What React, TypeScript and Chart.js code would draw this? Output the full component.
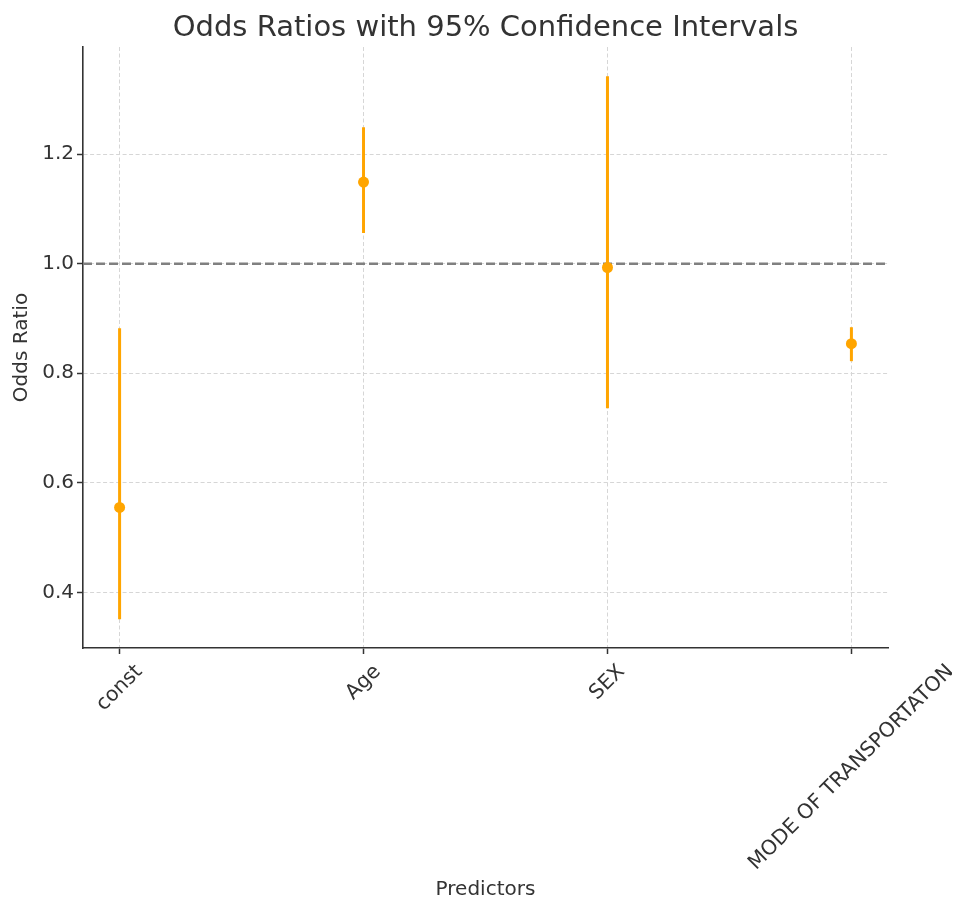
import React, { useEffect, useRef } from 'react';
import { Chart, registerables } from 'chart.js';

Chart.register(...registerables);

const categories = ['const', 'Age', 'SEX', 'MODE OF TRANSPORTATON'];
const oddsRatios = [0.555, 1.149, 0.993, 0.854];
const ciLower = [0.351, 1.056, 0.736, 0.822];
const ciUpper = [0.882, 1.249, 1.342, 0.884];
const yTicks = [0.4, 0.6, 0.8, 1.0, 1.2];
const referenceValue = 1.0;
const chartTitle = 'Odds Ratios with 95% Confidence Intervals';

const X_MIN = -0.15;
const X_MAX = 3.15;
const Y_MIN = 0.2985;
const Y_MAX = 1.3955;

const FAMILY = '"DejaVu Sans", sans-serif';
const TEXT = '#333333';
const ORANGE = '#FFA500';
const W = 944;
const H = 893;

const xLabelPlugin = {
  id: 'xLabels',
  afterDraw(chart: any) {
    const ctx = chart.ctx;
    const xs = chart.scales.x;
    const area = chart.chartArea;
    ctx.save();
    // title centred over the plot area
    ctx.font = `29px ${FAMILY}`;
    ctx.fillStyle = TEXT;
    ctx.textAlign = 'center';
    ctx.textBaseline = 'middle';
    ctx.fillText(chartTitle, (area.left + area.right) / 2, 20);
    // rotated category labels, bbox centred on tick
    const size = 20.5;
    ctx.font = `${size}px ${FAMILY}`;
    const top = xs.top + 12;
    xs.ticks.forEach((t: any) => {
      const label = categories[t.value];
      if (label === undefined) return;
      const L = ctx.measureText(label).width;
      const h = size * 1.17;
      const half = ((L + h) * Math.SQRT1_2) / 2;
      const cx = xs.getPixelForValue(t.value);
      const cy = top + half;
      ctx.save();
      ctx.translate(cx, cy);
      ctx.rotate(-Math.PI / 4);
      ctx.fillText(label, 0, 0);
      ctx.restore();
    });
    ctx.restore();
  },
};

export default function App() {
  const ref = useRef<HTMLCanvasElement>(null);

  useEffect(() => {
    if (!ref.current) return;
    const pointsDs = {
      label: 'Odds Ratio',
      data: categories.map((_, i) => ({ x: i, y: oddsRatios[i] })),
      showLine: false,
      pointRadius: 5.5,
      pointHoverRadius: 5.5,
      pointBackgroundColor: ORANGE,
      pointBorderWidth: 0,
      backgroundColor: ORANGE,
      borderColor: ORANGE,
    };
    const errDs = categories.map((c, i) => ({
      label: c + ' CI',
      data: [
        { x: i, y: ciLower[i] },
        { x: i, y: ciUpper[i] },
      ],
      showLine: true,
      borderColor: ORANGE,
      borderWidth: 3,
      borderCapStyle: 'butt',
      pointRadius: 0,
      pointHoverRadius: 0,
    }));
    const refDs = {
      label: 'Reference',
      data: [
        { x: X_MIN, y: referenceValue },
        { x: X_MAX, y: referenceValue },
      ],
      showLine: true,
      borderColor: '#808080',
      borderWidth: 2.5,
      borderDash: [9, 4],
      pointRadius: 0,
      pointHoverRadius: 0,
    };

    const chart = new Chart(ref.current, {
      type: 'scatter',
      data: { datasets: [pointsDs, ...errDs, refDs] as any },
      options: {
        animation: false,
        responsive: false,
        layout: { padding: { left: 0, right: 64, top: 39, bottom: 0 } },
        plugins: {
          legend: { display: false },
          tooltip: { enabled: false },
          title: { display: false },
        },
        scales: {
          x: {
            type: 'linear',
            min: X_MIN,
            max: X_MAX,
            afterBuildTicks: (s: any) => {
              s.ticks = categories.map((_, i) => ({ value: i }));
            },
            afterFit: (s: any) => {
              s.height = H - 640;
            },
            ticks: { display: false },
            grid: {
              color: '#d6d6d6',
              lineWidth: 1,
              drawTicks: true,
              tickLength: 6,
              tickColor: TEXT,
              tickWidth: 1.5,
            },
            border: { display: true, color: TEXT, width: 1.6, dash: [4, 2.5] },
            title: {
              display: true,
              text: 'Predictors',
              font: { family: FAMILY, size: 20, lineHeight: 1 },
              color: TEXT,
              padding: { top: 0, bottom: 1 },
            },
          },
          y: {
            type: 'linear',
            min: Y_MIN,
            max: Y_MAX,
            afterBuildTicks: (s: any) => {
              s.ticks = yTicks.map((v) => ({ value: v }));
            },
            afterFit: (s: any) => {
              s.width = 75;
            },
            ticks: {
              callback: (v: any) => Number(v).toFixed(1),
              font: { family: FAMILY, size: 20 },
              color: TEXT,
              padding: 3,
            },
            grid: {
              color: '#d6d6d6',
              lineWidth: 1,
              drawTicks: true,
              tickLength: 6,
              tickColor: TEXT,
              tickWidth: 1.5,
            },
            border: { display: true, color: TEXT, width: 1.6, dash: [4, 2.5] },
            title: {
              display: true,
              text: 'Odds Ratio',
              font: { family: FAMILY, size: 20, lineHeight: 1.2 },
              color: TEXT,
              padding: { top: 2, bottom: 0 },
            },
          },
        },
      },
      plugins: [xLabelPlugin],
    } as any);
    return () => chart.destroy();
  }, []);

  return (
    <div style={{ width: W, height: H }}>
      <canvas ref={ref} width={W} height={H} style={{ width: W, height: H, display: 'block' }} />
    </div>
  );
}
